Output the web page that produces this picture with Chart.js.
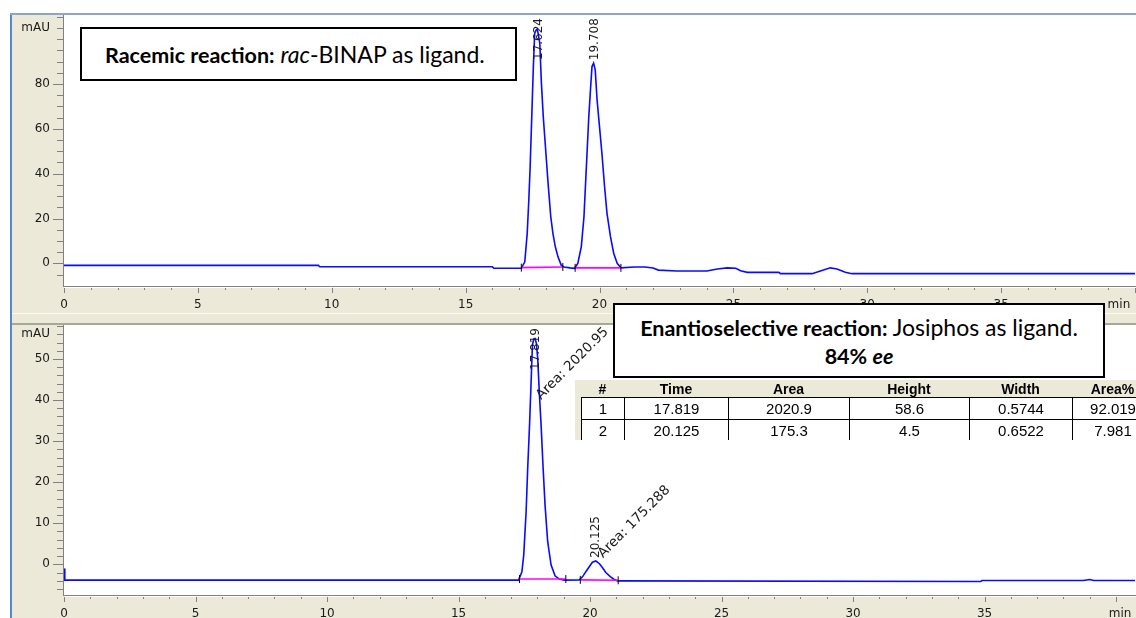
<!DOCTYPE html>
<html>
<head>
<meta charset="utf-8">
<script src="https://cdn.jsdelivr.net/npm/chart.js@4.4.1/dist/chart.umd.min.js"></script>
<style>
  html, body { margin:0; padding:0; width:1136px; height:618px; overflow:hidden; background:#ffffff; }
  #stage { position:absolute; left:0; top:0; width:1136px; height:618px; overflow:hidden; }
  .frame { position:absolute; left:10px; top:13px; width:1126px; height:605px; background:#ECE9D8; }
  .frameLeft { position:absolute; left:10px; top:13px; width:2px; height:605px; background:#5B86C5; }
  .frameTop { position:absolute; left:10px; top:13px; width:1126px; height:2px; background:#8DA5C7; }
  .sepLight { position:absolute; left:12px; top:313px; width:1124px; height:1px; background:#FBFAF5; }
  .sepDark { position:absolute; left:12px; top:323px; width:1124px; height:2px; background:#A9A797; }
  canvas { position:absolute; left:0; }
  #c1 { top:0; }
  #c2 { top:316px; }
  .box { position:absolute; background:#fff; border:2px solid #000; box-sizing:border-box; font-family:Lato, 'Open Sans', sans-serif; color:#000; white-space:nowrap; }
  .box b { font-size:21.5px; }
  .box .rg { font-size:23px; }
  #box1 { left:80px; top:27px; width:437px; height:54px; line-height:50px; padding-left:23px; }
  #box2 { left:613px; top:303px; width:492px; height:75px; text-align:center; line-height:27px; padding-top:9px; }
  #tbl { position:absolute; left:575px; top:380px; width:561px; height:60px; background:#ECE9D8; overflow:hidden; font-family:'Liberation Sans', Arial, sans-serif; color:#000; }
  .hcell { position:absolute; top:0; height:17px; line-height:18px; font-size:14px; font-weight:bold; text-align:center; }
  .row { position:absolute; left:6px; width:620px; background:#fff; border-top:1px solid #000; border-bottom:1px solid #000; box-sizing:border-box; }
  .cell { position:absolute; top:0; bottom:0; border-left:1px solid #000; box-sizing:border-box; text-align:center; font-size:15px; }
</style>
</head>
<body>
<div id="stage">
  <div class="frame"></div>
  <div class="frameLeft"></div>
  <div class="frameTop"></div>
  <div class="sepLight"></div>
  <div class="sepDark"></div>
  <canvas id="c1" width="1140" height="316"></canvas>
  <canvas id="c2" width="1140" height="302"></canvas>
  <div class="box" id="box1"><b>Racemic reaction:</b><span class="rg"> <i>rac</i>-BINAP as ligand.</span></div>
  <div class="box" id="box2"><b>Enantioselective reaction:</b><span class="rg"> Josiphos as ligand.</span><br><b>84% <i>ee</i></b></div>
  <div id="tbl"></div>
</div>
<script>
// ---------------- data ----------------
// Top chromatogram (racemic), time in min, signal in mAU
const topTime = [0, 9.5, 9.55, 16.0, 16.05, 17.08, 17.21, 17.30, 17.36, 17.41, 17.45, 17.49, 17.53, 17.58, 17.64, 17.68,
  17.77, 17.83, 17.90, 17.99, 18.08, 18.18, 18.26, 18.35, 18.45, 18.57, 18.67, 18.90,
  19.07, 19.19, 19.32, 19.42, 19.48, 19.54, 19.60, 19.67, 19.72, 19.78, 19.84, 19.91, 20.00, 20.09, 20.19, 20.28,
  20.41, 20.53, 20.66, 20.80, 21.30, 21.70, 22.00, 22.20, 22.90, 24.01, 24.40, 24.77, 25.09, 25.27, 25.52,
  26.70, 26.76, 27.94, 28.25, 28.62, 28.87, 29.18, 29.43, 40.0];
const topSignal = [-0.9, -0.9, -1.5, -1.5, -2.2, -2.2, 0.7, 13.4, 28.3, 43.1, 58.0, 72.9, 87.8, 102.7, 104.2, 104.5,
  98.2, 80.4, 65.4, 50.6, 35.7, 20.8, 13.4, 7.4, 2.9, -0.8, -1.6, -2.0,
  -2.2, 0.0, 7.4, 20.8, 35.7, 50.6, 65.4, 78.8, 87.8, 89.3, 86.3, 72.9, 61.0, 49.1, 34.2, 22.3,
  11.9, 4.5, 0.0, -2.0, -1.6, -1.6, -2.1, -3.0, -3.4, -3.4, -2.5, -2.0, -2.2, -3.3, -4.0,
  -4.0, -4.6, -4.6, -3.4, -2.0, -2.5, -4.0, -4.6, -4.6];

// Bottom chromatogram (enantioselective)
const botTime = [0, 0.03, 17.28, 17.41, 17.48, 17.57, 17.63, 17.70, 17.76, 17.81, 17.86, 17.91, 17.96, 18.01, 18.07,
  18.14, 18.21, 18.29, 18.39, 18.52, 18.67, 18.83, 19.02, 19.59, 19.72, 19.84, 19.97, 20.09, 20.22, 20.35, 20.47,
  20.60, 20.77, 20.92, 21.04, 34.85, 34.90, 38.75, 39.00, 39.15, 40.72];
const botSignal = [-1.0, -3.85, -3.85, -1.8, 2.3, 12.8, 23.4, 33.9, 44.5, 53.4, 54.9, 55.0, 53.8, 50.2, 42.0,
  33.9, 24.2, 14.4, 5.5, -0.2, -2.8, -3.6, -3.85, -3.8, -3.0, -1.8, -0.6, 0.5, 0.8, 0.2, -0.8,
  -2.0, -3.0, -3.7, -4.05, -4.2, -3.95, -3.95, -3.7, -3.95, -3.95];

// Integration baselines [startT, endT] and [startV, endV]
const topIntegT = [[17.08, 18.63], [19.09, 20.80]];
const topIntegV = [[-1.9, -1.6], [-2.0, -2.0]];
const botIntegT = [[17.32, 19.08], [19.63, 21.07]];
const botIntegV = [[-3.6, -3.6], [-3.8, -3.9]];

// Peak retention-time labels and area labels
const topPeakRT = [17.624, 19.708];
const topPeakText = ['17.624', '19.708'];
const botPeakRT = [17.819, 20.125];
const botPeakText = ['17.819', '20.125'];
const botAreaText = ['Area: 2020.95', 'Area: 175.288'];
const botAreaT = [18.14, 20.49];
const botAreaV = [40.0, 1.5];

// Axis ticks
const xMinorTicks = [0,1,2,3,4,5,6,7,8,9,10,11,12,13,14,15,16,17,18,19,20,21,22,23,24,25,26,27,28,29,30,31,32,33,34,35,36,37,38,39,40];
const xMajorTicks = [0, 5, 10, 15, 20, 25, 30, 35, 40];
const topXLabelVals = [0, 5, 10, 15, 20, 25, 30, 35, 39.4];
const botXLabelVals = [0, 5, 10, 15, 20, 25, 30, 35, 40.15];
const xLabelText = ['0', '5', '10', '15', '20', '25', '30', '35', 'min'];

const topYLabelVals = [0, 20, 40, 60, 80, 105];
const topYLabelText = ['0', '20', '40', '60', '80', 'mAU'];
const topYMinor = [-5,0,5,10,15,20,25,30,35,40,45,50,55,60,65,70,75,80,85,90,95,100,105,110];
const topYMajor = [0, 20, 40, 60, 80];

const botYLabelVals = [0, 10, 20, 30, 40, 50, 56];
const botYLabelText = ['0', '10', '20', '30', '40', '50', 'mAU'];
const botYMinor = [-6,-4,-2,0,2,4,6,8,10,12,14,16,18,20,22,24,26,28,30,32,34,36,38,40,42,44,46,48,50,52,54,56,58];
const botYMajor = [0, 10, 20, 30, 40, 50];

// Table
const tblHead = ['#', 'Time', 'Area', 'Height', 'Width', 'Area%'];
const tblRows = [['1', '17.819', '2020.9', '58.6', '0.5744', '92.019'],
                 ['2', '20.125', '175.3', '4.5', '0.6522', '7.981']];

// ---------------- rendering ----------------
const TRACE = '#0a0aff', INTEG = '#ff00ff', AX = '#808080', TXT = '#1a1a1a';
const FONT = 'DejaVu Sans';

const deco = {
  id: 'deco',
  beforeDraw(chart) {
    const {ctx, chartArea: a} = chart;
    ctx.save();
    ctx.fillStyle = '#ffffff';
    ctx.fillRect(a.left, a.top, a.right - a.left + 2, a.bottom - a.top);
    ctx.restore();
  },
  afterDatasetsDraw(chart, args, o) {
    const {ctx, chartArea: a, scales: {x, y}} = chart;
    ctx.save();
    ctx.strokeStyle = AX; ctx.lineWidth = 1;
    ctx.beginPath();
    ctx.moveTo(a.left - 0.5, a.top); ctx.lineTo(a.left - 0.5, a.bottom + 1);
    ctx.moveTo(a.left - 1, a.bottom + 0.5); ctx.lineTo(a.right + 2, a.bottom + 0.5);
    o.yMinor.forEach(v => {
      const p = Math.round(y.getPixelForValue(v)) + 0.5;
      const len = o.yMajor.includes(v) ? 10 : 6;
      ctx.moveTo(a.left - 1, p); ctx.lineTo(a.left - 1 - len, p);
    });
    xMinorTicks.forEach(v => {
      const p = Math.round(x.getPixelForValue(v)) + 0.5;
      const len = xMajorTicks.includes(v) ? 6 : 3;
      ctx.moveTo(p, a.bottom + 1); ctx.lineTo(p, a.bottom + 1 + len);
    });
    ctx.stroke();
    ctx.strokeStyle = '#ffffff';
    ctx.beginPath();
    ctx.moveTo(a.left, a.bottom + 1.5); ctx.lineTo(a.right + 2, a.bottom + 1.5);
    ctx.stroke();

    const tr = chart.data.datasets[0].data;
    ctx.fillStyle = TXT;
    ctx.font = '12px "' + FONT + '"';
    o.rt.forEach((t, i) => {
      let maxV = -Infinity;
      tr.forEach(p => { if (Math.abs(p.x - t) < 0.3 && p.y > maxV) maxV = p.y; });
      const txt = o.rtText[i];
      const w = ctx.measureText(txt).width;
      const bottom = y.getPixelForValue(maxV) - 3;
      let top = bottom - w;
      if (top < a.top + 3) top = a.top + 3;
      const px = x.getPixelForValue(t) + 3;
      ctx.save();
      ctx.translate(px, top);
      ctx.rotate(-Math.PI / 2);
      ctx.textAlign = 'right'; ctx.textBaseline = 'middle';
      ctx.fillText(txt, 0, 0);
      ctx.restore();
    });
    ctx.font = '13.5px "' + FONT + '"';
    (o.areaText || []).forEach((txt, i) => {
      ctx.save();
      ctx.translate(x.getPixelForValue(o.areaT[i]), y.getPixelForValue(o.areaV[i]));
      ctx.rotate(-Math.PI / 4);
      ctx.textAlign = 'left'; ctx.textBaseline = 'alphabetic';
      ctx.fillText(txt, 0, 0);
      ctx.restore();
    });
    ctx.restore();
  }
};

function pts(tArr, vArr) { return tArr.map((t, i) => ({x: t, y: vArr[i]})); }

function buildChart(id, cfg) {
  const datasets = [{
    data: pts(cfg.time, cfg.signal), borderColor: TRACE, borderWidth: 1.6,
    pointRadius: 0, showLine: true, tension: 0, order: 1
  }];
  cfg.integT.forEach((seg, i) => {
    datasets.push({
      data: pts(seg, cfg.integV[i]), borderColor: INTEG, borderWidth: 1.6, showLine: true,
      pointStyle: 'line', rotation: 90, pointRadius: 4, pointBorderColor: '#000', pointBorderWidth: 1,
      pointBackgroundColor: '#000', order: 0
    });
  });
  return new Chart(document.getElementById(id), {
    type: 'scatter',
    data: { datasets },
    options: {
      responsive: false, animation: false, devicePixelRatio: 1,
      layout: { padding: { top: cfg.padTop, right: 1, left: 0, bottom: 0 } },
      plugins: {
        legend: { display: false }, tooltip: { enabled: false },
        deco: { yMinor: cfg.yMinor, yMajor: cfg.yMajor, rt: cfg.rt, rtText: cfg.rtText,
                areaText: cfg.areaText, areaT: cfg.areaT, areaV: cfg.areaV }
      },
      scales: {
        x: {
          type: 'linear', min: 0, max: cfg.xMax,
          grid: { display: false, drawTicks: false }, border: { display: false },
          afterBuildTicks: s => { s.ticks = cfg.xLabelVals.map(v => ({value: v})); },
          afterFit: s => { s.height = cfg.xAxisH; s.paddingLeft = 0; s.paddingRight = 0; },
          ticks: { autoSkip: false, maxRotation: 0, minRotation: 0, padding: cfg.xPad, color: TXT,
                   font: { family: FONT, size: 12 }, callback: (v, i) => xLabelText[i] }
        },
        y: {
          type: 'linear', min: cfg.yMin, max: cfg.yMax,
          grid: { display: false, drawTicks: false }, border: { display: false },
          afterBuildTicks: s => { s.ticks = cfg.yLabelVals.map(v => ({value: v})); },
          afterFit: s => { s.width = 64; s.paddingTop = 0; s.paddingBottom = 0; },
          ticks: { autoSkip: false, padding: 14, color: TXT,
                   font: { family: FONT, size: 12 }, callback: (v, i) => cfg.yLabelText[i] }
        }
      }
    },
    plugins: [deco]
  });
}

buildChart('c1', {
  time: topTime, signal: topSignal, integT: topIntegT, integV: topIntegV,
  padTop: 15, xMax: 40, xAxisH: 30, xPad: 12, xLabelVals: topXLabelVals,
  yMin: -10.1, yMax: 110.8, yLabelVals: topYLabelVals, yLabelText: topYLabelText,
  yMinor: topYMinor, yMajor: topYMajor, rt: topPeakRT, rtText: topPeakText
});
buildChart('c2', {
  time: botTime, signal: botSignal, integT: botIntegT, integV: botIntegV,
  padTop: 9, xMax: 40.72, xAxisH: 23, xPad: 12, xLabelVals: botXLabelVals,
  yMin: -7.48, yMax: 58.28, yLabelVals: botYLabelVals, yLabelText: botYLabelText,
  yMinor: botYMinor, yMajor: botYMajor, rt: botPeakRT, rtText: botPeakText,
  areaText: botAreaText, areaT: botAreaT, areaV: botAreaV
});

// ---------------- table ----------------
const colEdges = [6, 49, 153, 274, 394, 497, 578];
const tbl = document.getElementById('tbl');
tblHead.forEach((h, i) => {
  const d = document.createElement('div');
  d.className = 'hcell';
  d.style.left = colEdges[i] + 'px';
  d.style.width = (colEdges[i + 1] - colEdges[i]) + 'px';
  d.textContent = h;
  tbl.appendChild(d);
});
const rowTops = [17, 39];
const rowHeights = [24, 24];
tblRows.forEach((r, ri) => {
  const row = document.createElement('div');
  row.className = 'row';
  row.style.top = rowTops[ri] + 'px';
  row.style.height = rowHeights[ri] + 'px';
  r.forEach((c, ci) => {
    const d = document.createElement('div');
    d.className = 'cell';
    d.style.left = (colEdges[ci] - 6) + 'px';
    d.style.width = (colEdges[ci + 1] - colEdges[ci]) + 'px';
    d.style.lineHeight = (rowHeights[ri] - 2) + 'px';
    d.textContent = c;
    row.appendChild(d);
  });
  tbl.appendChild(row);
});
</script>
</body>
</html>
